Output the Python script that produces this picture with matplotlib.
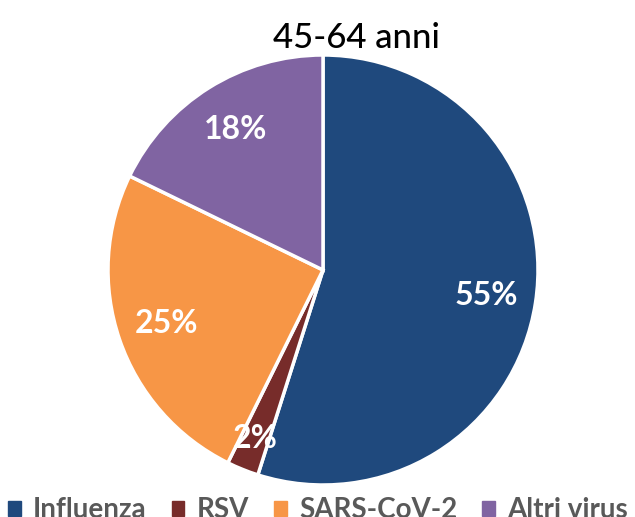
import matplotlib
matplotlib.use("Agg")
import matplotlib.pyplot as plt
from matplotlib.patches import Patch

categories = ["Influenza", "RSV", "SARS-CoV-2", "Altri virus"]
values = [54.9, 2.4, 24.9, 17.8]
colors = ["#1F497D", "#772C2A", "#F79646", "#8064A2"]
title = "45-64 anni"

plt.rcParams['font.family'] = ["Lato", "DejaVu Sans"]

W, H = 635, 517
fig = plt.figure(figsize=(W / 100, H / 100), dpi=100)
ax = fig.add_axes([108 / W, 32 / H, 430 / W, 430 / H])
wedges, texts, autotexts = ax.pie(
    values, colors=colors, startangle=90, counterclock=False,
    autopct=lambda p: f"{p:.0f}%", pctdistance=0.77,
    wedgeprops=dict(edgecolor="white", linewidth=2.5),
    textprops=dict(color="white", fontsize=23, fontweight="bold"))
# nudge the small slice label outward
x, y = autotexts[1].get_position()
autotexts[1].set_position((x * 1.1, y * 1.1))
ax.set_xlim(-1, 1)
ax.set_ylim(-1, 1)
ax.set_aspect("equal")

fig.text(356 / W, 1 - 38 / H, title, ha="center", va="center", fontsize=25,
         fontweight="medium", color="black")

handles = [Patch(facecolor=c, edgecolor=c) for c in colors]
leg = fig.legend(handles, categories, loc="center", bbox_to_anchor=(318 / W, 1 - 510 / H), ncol=4,
                 frameon=False, handlelength=0.45, handleheight=0.45, handletextpad=0.45,
                 columnspacing=0.9, borderpad=0, borderaxespad=0,
                 prop=dict(size=20, weight="bold"))
for t in leg.get_texts():
    t.set_color("#595959")

fig.savefig("out.png", dpi=100)
